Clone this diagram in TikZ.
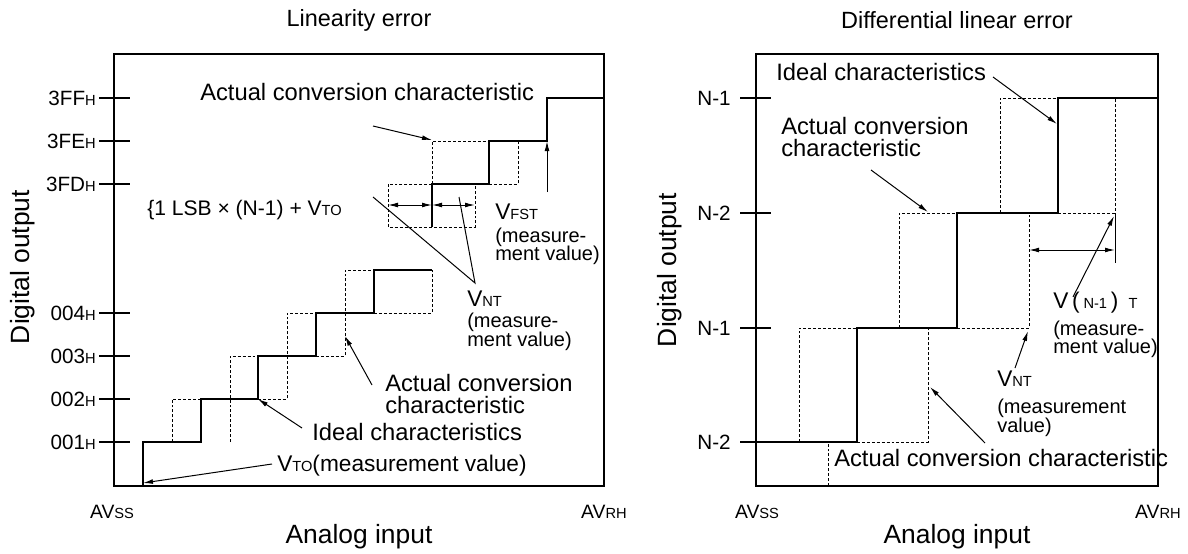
\documentclass[tikz,border=0pt]{standalone}
\usepackage{fontspec}
\setmainfont{Liberation Sans}
\usetikzlibrary{arrows.meta}
\newcommand\fsz[2]{\fontsize{#1}{#2}\selectfont}
\newcommand\subcap[1]{{\fsz{11}{12}#1}}
\newcommand\hsub{{\fsz{11}{12}H}}
\begin{document}
\begin{tikzpicture}[x=0.75pt,y=-0.75pt,
 frm/.style={line width=1.9pt},
 stair/.style={line width=2.1pt},
 tickline/.style={line width=1.9pt},
 dsh/.style={line width=0.75pt, dash pattern=on 2.2pt off 1.5pt},
 thinline/.style={line width=0.75pt},
 arr/.style={thinline, -{Latex[length=7.5pt,width=3.6pt]}},
 dim/.style={thinline, {Latex[length=7.5pt,width=3.6pt]}-{Latex[length=7.5pt,width=3.6pt]}},
 lab/.style={inner sep=0, font=\fsz{17.8}{16}, anchor=west},
 mlab/.style={inner sep=0, font=\fsz{15}{13}, anchor=west},
 vlab/.style={inner sep=0, font=\fsz{17}{16}, anchor=west},
 ttl/.style={inner sep=0, font=\fsz{17.6}{20}},
 axl/.style={inner sep=0, font=\fsz{19.8}{22}},
 tkl/.style={inner sep=0, font=\fsz{15.5}{16}, anchor=east},
 avl/.style={inner sep=0, font=\fsz{14.5}{16}},
]
\useasboundingbox (0,0) rectangle (1188,553);

% ================= LEFT PANEL =================
\node[ttl] (ltitle) at (359,20) {Linearity error};
\draw[frm] (114,54) rectangle (604,486);
\node[axl, rotate=90] (ldig) at (23,267) {Digital output};
\node[axl] (lana) at (359,537) {Analog input};
\node[avl] (lavss) at (112,512) {AV\subcap{SS}};
\node[avl] (lavrh) at (604,512) {AV\subcap{RH}};

% ticks
\foreach \yy/\tx/\nm in {98/3FF/t1,141/3FE/t2,184/3FD/t3,313/004/t4,356/003/t5,399/002/t6,442/001/t7}{
  \draw[tickline] (99,\yy) -- (130,\yy);
  \node[tkl] (l\nm) at (96,\yy) {\tx\hsub};
}

% ideal (dashed) characteristic
\draw[dsh] (172,442) -- (172,399) -- (201,399);
\draw[dsh] (230,442) -- (230,356) -- (258,356);
\draw[dsh] (258,399) -- (287,399) -- (287,313) -- (316,313);
\draw[dsh] (316,356) -- (345,356) -- (345,270) -- (374,270);
\draw[dsh] (374,313) -- (432,313) -- (432,270);
\draw[dsh] (432,184) -- (432,141) -- (489,141);
\draw[dsh] (489,184) -- (518,184) -- (518,141);
\draw[dsh] (432,184) -- (388,184) -- (388,227) -- (475,227) -- (475,184);

% thick staircase
\draw[stair] (143,486) -- (143,442) -- (201,442) -- (201,399) -- (258,399) -- (258,356) -- (316,356) -- (316,313) -- (374,313) -- (374,270) -- (432,270);
\draw[stair] (432,227) -- (432,184) -- (489,184) -- (489,141) -- (547,141) -- (547,98) -- (604,98);

% dimension arrows
\coordinate (d1a) at (388,205);
\coordinate (d1b) at (432,205);
\coordinate (d1c) at (475,205);
\draw[dim] (d1a) -- (d1b);
\draw[dim] (d1b) -- (d1c);

% labels left
\node[lab] (lact1) at (200,92) {Actual conversion characteristic};
\coordinate (la1s) at (373,126);
\coordinate (la1e) at (432,140);
\draw[arr] (la1s) -- (la1e);

\node[mlab, font=\fsz{15.8}{16}] (llsb) at (147,210) {\{1 LSB × (N-1) + V\subcap{TO}};

\node[vlab] (lvfst) at (495,212) {V\subcap{FST}};
\node[mlab] (lvfst2) at (495,237) {(measure-};
\node[mlab] (lvfst3) at (495,255) {ment value)};
\coordinate (lfs) at (547,192);
\coordinate (lfe) at (547,141);
\draw[arr] (lfs) -- (lfe);

\node[vlab] (lvnt) at (467,299) {V\subcap{NT}};
\node[mlab] (lvnt2) at (467,322) {(measure-};
\node[mlab] (lvnt3) at (467,341) {ment value)};
\coordinate (lnta) at (373,197);
\coordinate (lntb) at (475,283);
\coordinate (lntc) at (459,197);
\draw[thinline] (lnta) -- (lntb) -- (lntc);

\node[lab] (lact2) at (385,383) {Actual conversion};
\node[lab] (lact3) at (385,405) {characteristic};
\coordinate (la2s) at (372,385);
\coordinate (la2e) at (345,336);
\draw[arr] (la2s) -- (la2e);

\node[lab] (lideal) at (312,432) {Ideal characteristics};
\coordinate (lis) at (302,428);
\coordinate (lie) at (258,399);
\draw[arr] (lis) -- (lie);

\node[vlab] (lvto) at (277,466) {V\subcap{TO}(measurement value)};
\coordinate (lvs) at (272,464);
\coordinate (lve) at (143,483);
\draw[arr] (lvs) -- (lve);

% ================= RIGHT PANEL =================
\node[ttl] (rtitle) at (957,20) {Differential linear error};
\draw[frm] (756,54) rectangle (1158,486);
\node[axl, rotate=90] (rdig) at (670,270) {Digital output};
\node[axl] (rana) at (957,537) {Analog input};
\node[avl] (ravss) at (757,512) {AV\subcap{SS}};
\node[avl] (ravrh) at (1158,512) {AV\subcap{RH}};

\foreach \yy/\tx/\nm in {98/N-1/t1,213/N-2/t2,328/N-1/t3,442/N-2/t4}{
  \draw[tickline] (740,\yy) -- (771,\yy);
  \node[tkl] (r\nm) at (731,\yy) {\tx};
}

% dashed
\draw[dsh] (799,442) -- (799,328) -- (857,328);
\draw[dsh] (828,486) -- (828,442);
\draw[dsh] (857,442) -- (928,442) -- (928,328);
\draw[dsh] (899,328) -- (899,213) -- (957,213);
\draw[dsh] (957,328) -- (1029,328) -- (1029,213);
\draw[dsh] (1000,213) -- (1000,98) -- (1058,98);
\draw[dsh] (1058,213) -- (1115,213) -- (1115,98);
\draw[thinline] (1115,213) -- (1115,263);

% thick staircase
\draw[stair] (756,442) -- (857,442) -- (857,328) -- (957,328) -- (957,213) -- (1058,213) -- (1058,98) -- (1158,98);

\coordinate (d2a) at (1029,250);
\coordinate (d2b) at (1115,250);
\draw[dim] (d2a) -- (d2b);

% labels right
\node[lab] (rideal) at (776,72) {Ideal characteristics};
\coordinate (ris) at (993,77);
\coordinate (rie) at (1057,124);
\draw[arr] (ris) -- (rie);

\node[lab] (ract1) at (781,126) {Actual conversion};
\node[lab] (ract2) at (781,148) {characteristic};
\coordinate (ra1s) at (871,170);
\coordinate (ra1e) at (928,212);
\draw[arr] (ra1s) -- (ra1e);

\node[vlab] (rvn1) at (1053,303) {V\,(\,\subcap{N-1}\,)\, \subcap{T}};
\node[mlab] (rvn2) at (1053,330) {(measure-};
\node[mlab] (rvn3) at (1053,348) {ment value)};
\coordinate (rvs) at (1073,297);
\coordinate (rve) at (1114,216);
\draw[arr] (rvs) -- (rve);

\node[vlab] (rvnt) at (997,379) {V\subcap{NT}};
\node[mlab] (rvnt2) at (997,408) {(measurement};
\node[mlab] (rvnt3) at (997,427) {value)};
\coordinate (rns) at (1015,368);
\coordinate (rne) at (1028,331);
\draw[arr] (rns) -- (rne);

\node[lab] (ract3) at (834,458) {Actual conversion characteristic};
\coordinate (ra2s) at (985,443);
\coordinate (ra2e) at (930,387);
\draw[arr] (ra2s) -- (ra2e);
\end{tikzpicture}
\end{document}
